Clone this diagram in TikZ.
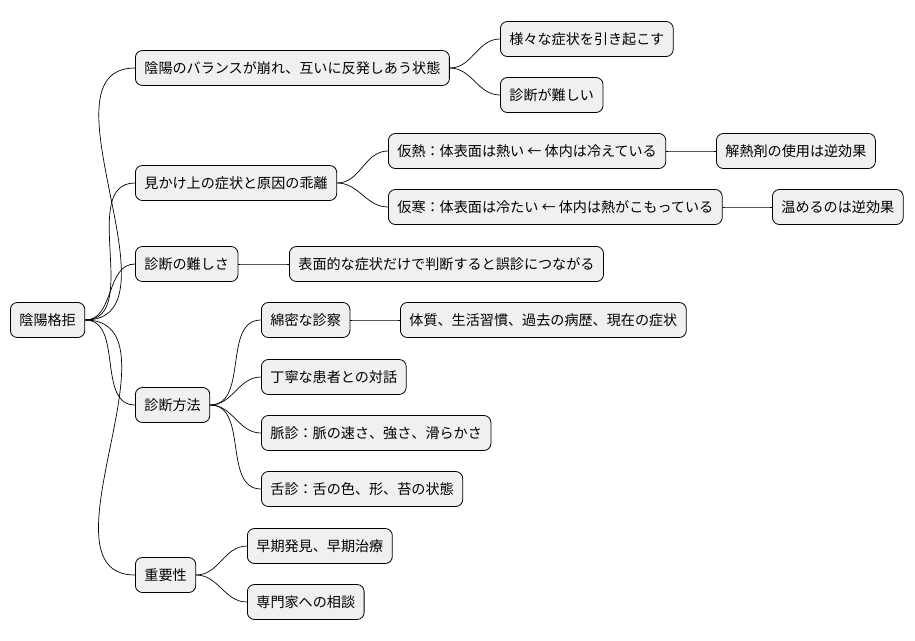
\documentclass[tikz,border=0pt]{standalone}
\usepackage{fontspec}
\setmainfont{Noto Sans CJK JP}
\usetikzlibrary{positioning}

\begin{document}
\begin{tikzpicture}[x=1pt,y=-1pt,
        topic/.style={draw=black,fill=black!6,rounded corners=7pt,line width=0.8pt,
                      anchor=west,inner xsep=9pt,minimum height=35pt,font=\fontsize{14.1pt}{16pt}\selectfont},
        link/.style={line width=0.7pt}]
    \useasboundingbox (0,0) rectangle (915,640);
    \node[topic] (root) at (10,320) {陰陽格拒};
    % first level
    \node[topic] (bal) at (135,68) {陰陽のバランスが崩れ、互いに反発しあう状態};
    \node[topic] (gap) at (135,183) {見かけ上の症状と原因の乖離};
    \node[topic] (dif) at (135,264) {診断の難しさ};
    \node[topic] (met) at (135,405) {診断方法};
    \node[topic] (imp) at (135,575) {重要性};
    % second level
    \node[topic] (sym) at (500,39) {様々な症状を引き起こす};
    \node[topic] (hard) at (500,95) {診断が難しい};
    \node[topic] (fnet) at (388,151) {仮熱：体表面は熱い ← 体内は冷えている};
    \node[topic] (fcol) at (388,207) {仮寒：体表面は冷たい ← 体内は熱がこもっている};
    \node[topic] (surf) at (289,264) {表面的な症状だけで判断すると誤診につながる};
    \node[topic] (exam) at (261,320) {綿密な診察};
    \node[topic] (talk) at (261,377) {丁寧な患者との対話};
    \node[topic] (puls) at (261,433) {脈診：脈の速さ、強さ、滑らかさ};
    \node[topic] (tong) at (261,489) {舌診：舌の色、形、苔の状態};
    \node[topic] (early) at (247,546) {早期発見、早期治療};
    \node[topic] (expt) at (247,602) {専門家への相談};
    % third level
    \node[topic] (anti) at (716,151) {解熱剤の使用は逆効果};
    \node[topic] (warm) at (772,207) {温めるのは逆効果};
    \node[topic] (body) at (400,320) {体質、生活習慣、過去の病歴、現在の症状};

    \foreach \a/\b in {root/bal,root/gap,root/dif,root/met,root/imp,
                       bal/sym,bal/hard,gap/fnet,gap/fcol,dif/surf,
                       met/exam,met/talk,met/puls,met/tong,imp/early,imp/expt,
                       fnet/anti,fcol/warm,exam/body}
        \draw[link] (\a.east) to[out=0,in=180] (\b.west);
\end{tikzpicture}
\end{document}
